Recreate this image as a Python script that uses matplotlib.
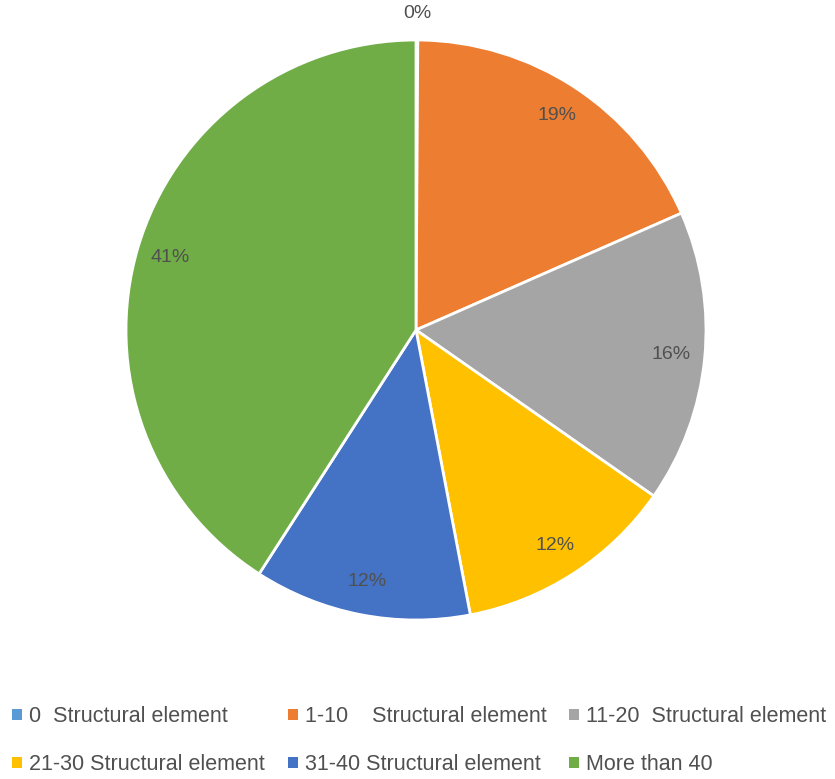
import numpy as np
import matplotlib.pyplot as plt
from matplotlib.patches import Patch

categories = ['0  Structural element', '1-10    Structural element', '11-20  Structural element',
              '21-30 Structural element', '31-40 Structural element', 'More than 40']
shares = [0.1, 18.3, 16.3, 12.3, 12.1, 40.9]
share_labels = ['0%', '19%', '16%', '12%', '12%', '41%']
colors = ['#5B9BD5', '#ED7D31', '#A5A5A5', '#FFC000', '#4472C4', '#70AD47']

plt.rcParams['font.family'] = ['Liberation Sans', 'DejaVu Sans']
text_col = '#505050'

fig = plt.figure(figsize=(8.35, 7.79), dpi=100)
ax = fig.add_axes([126 / 835, 159 / 779, 580 / 835, 580 / 779])

wedges, texts = ax.pie(shares, colors=colors, startangle=90, counterclock=False,
                       wedgeprops=dict(edgecolor='white', linewidth=2))
# percentage labels at the wedge mid-angles
theta = 90 - 3.6 * (np.cumsum(shares) - np.array(shares) / 2)
for i, lab in enumerate(share_labels):
    r = 1.09 if i == 0 else 0.885
    ax.text(r * np.cos(np.radians(theta[i])), r * np.sin(np.radians(theta[i])), lab,
            ha='center', va='center', color=text_col, fontsize=14)
ax.set_xlim(-1, 1)
ax.set_ylim(-1, 1)

# legend: three columns, two rows
handles = [Patch(facecolor=c, edgecolor='none') for c in colors]
col_x = [12, 288, 569]
for j in range(3):
    idx = [j, j + 3]
    leg = fig.legend([handles[i] for i in idx], [categories[i] for i in idx],
                     loc='center left', bbox_to_anchor=(col_x[j] / 835, 1 - 740.5 / 779),
                     frameon=False, fontsize=15.5, handlelength=0.45, handleheight=0.45,
                     handletextpad=0.35, labelspacing=1.25, borderpad=0, borderaxespad=0)
    for t in leg.get_texts():
        t.set_color(text_col)

fig.savefig('out.png', dpi=100, facecolor='white')
